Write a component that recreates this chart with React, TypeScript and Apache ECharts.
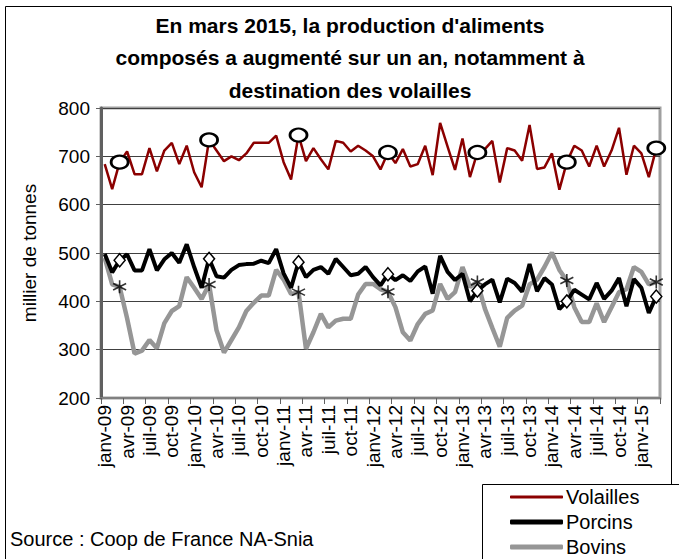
import React, { useEffect, useRef } from "react";
import * as echarts from "echarts";

const MONTHS = ["janv", "févr", "mars", "avr", "mai", "juin", "juil", "août", "sept", "oct", "nov", "déc"];
const YEARS = ["09", "10", "11", "12", "13", "14", "15"];
const N_POINTS = 75;

const VOLAILLES = [
  684, 632, 688, 710, 663, 663, 717, 669, 712, 728, 684, 722,
  667, 636, 734, 712, 690, 700, 692, 706, 728, 728, 728, 743,
  688, 652, 744, 690, 717, 694, 673, 732, 728, 710, 722, 712,
  700, 673, 708, 686, 715, 679, 684, 722, 661, 769, 720, 672,
  737, 657, 708, 715, 732, 646, 717, 712, 691, 765, 674, 677,
  706, 631, 688, 722, 712, 679, 722, 679, 712, 759, 662, 722,
  706, 657, 717,
];

const PORCINS = [
  498, 460, 485, 497, 464, 464, 508, 464, 487, 500, 480, 518,
  471, 428, 488, 452, 449, 465, 475, 477, 478, 484, 479, 508,
  458, 428, 481, 450, 465, 471, 457, 488, 471, 454, 457, 471,
  450, 433, 456, 444, 454, 442, 462, 472, 416, 494, 461, 444,
  457, 400, 422, 435, 445, 398, 447, 438, 420, 477, 421, 448,
  435, 384, 400, 424, 414, 404, 438, 405, 422, 448, 390, 446,
  428, 376, 410,
];

const BOVINS = [
  490, 435, 430, 365, 292, 298, 320, 303, 355, 380, 390, 450,
  428, 405, 435, 340, 294, 320, 346, 380, 397, 412, 412, 465,
  445, 415, 419, 302, 336, 374, 346, 360, 364, 364, 414, 436,
  436, 425, 420, 388, 336, 319, 353, 374, 381, 436, 405, 419,
  471, 430, 440, 385, 345, 306, 366, 381, 391, 435, 445, 471,
  501, 465, 443, 388, 357, 357, 396, 357, 388, 419, 425, 471,
  461, 435, 440,
];

const MARCH_IDX = [2, 14, 26, 38, 50, 62, 74];
const Y_MIN = 200;
const Y_MAX = 800;
const Y_STEP = 100;

const TITLE = "En mars 2015, la production d'aliments\ncomposés a augmenté sur un an, notamment à\ndestination des volailles";
const Y_NAME = "millier de tonnes";
const SOURCE = "Source : Coop de France NA-Snia";
const LEGEND_NAMES = ["Volailles", "Porcins", "Bovins"];

const FONT = "'Liberation Sans', Arial, sans-serif";
const C_VOL = "#8b0000";
const C_POR = "#000000";
const C_BOV = "#969696";

function buildCategories(): string[] {
  const out: string[] = [];
  for (let i = 0; i < N_POINTS; i++) {
    out.push(MONTHS[i % 12] + "-" + YEARS[Math.floor(i / 12)]);
  }
  return out;
}

const ASTERISK = "path://M5,0L5,10M0.67,2.5L9.33,7.5M0.67,7.5L9.33,2.5";

function marchPoints(values: number[]) {
  return MARCH_IDX.map((i) => [i, values[i]]);
}

function legendItem(name: string, top: number, h: number) {
  return {
    data: [name],
    orient: "horizontal",
    left: 510,
    top,
    icon: "roundRect",
    itemWidth: 53,
    itemHeight: h,
    padding: 0,
    textStyle: { fontFamily: FONT, fontSize: 20, color: "#000", padding: [0, 0, 0, -2] },
    selectedMode: false,
  };
}

export default function App() {
  const ref = useRef<HTMLDivElement>(null);
  useEffect(() => {
    document.body.style.margin = "0";
    if (!ref.current) return;
    const chart = echarts.init(ref.current, undefined, { renderer: "svg" });
    const categories = buildCategories();
    chart.setOption({
      animation: false,
      backgroundColor: "#fff",
      textStyle: { fontFamily: FONT },
      title: {
        text: TITLE,
        left: 345,
        top: 4,
        textAlign: "center",
        textStyle: { fontFamily: FONT, fontSize: 21, fontWeight: "bold", color: "#000", lineHeight: 32.5 },
      },
      grid: { left: 101, top: 108, right: 19, bottom: 161, show: true, borderColor: "#a0a0a0", borderWidth: 3, containLabel: false },
      legend: [
        legendItem(LEGEND_NAMES[0], 487, 3),
        legendItem(LEGEND_NAMES[1], 512, 5),
        legendItem(LEGEND_NAMES[2], 537, 5),
      ],
      xAxis: {
        type: "category",
        data: categories,
        boundaryGap: true,
        axisLine: { lineStyle: { color: "#808080", width: 2 } },
        axisTick: { show: true, interval: 2, length: 6, lineStyle: { color: "#606060", width: 1 } },
        axisLabel: { interval: 2, rotate: 90, fontSize: 19, color: "#000", fontFamily: FONT, margin: 7 },
        splitLine: { show: false },
      },
      yAxis: {
        type: "value",
        min: Y_MIN,
        max: Y_MAX,
        interval: Y_STEP,
        name: Y_NAME,
        nameLocation: "middle",
        nameGap: 62,
        nameRotate: 90,
        nameTextStyle: { fontFamily: FONT, fontSize: 19, color: "#000" },
        axisLine: { show: true, lineStyle: { color: "#606060", width: 3 } },
        axisTick: { show: true, inside: false, length: 5, lineStyle: { color: "#606060" } },
        axisLabel: { fontSize: 19, color: "#000", fontFamily: FONT, margin: 11 },
        splitLine: { show: true, lineStyle: { color: "#404040", width: 1 } },
      },
      series: [
        {
          name: "Bovins",
          type: "line",
          data: BOVINS,
          symbol: "none",
          lineStyle: { color: C_BOV, width: 4.5 },
          itemStyle: { color: C_BOV },
          z: 2,
        },
        {
          name: "Porcins",
          type: "line",
          data: PORCINS,
          symbol: "none",
          lineStyle: { color: C_POR, width: 4 },
          itemStyle: { color: C_POR },
          z: 3,
        },
        {
          name: "Volailles",
          type: "line",
          data: VOLAILLES,
          symbol: "none",
          lineStyle: { color: C_VOL, width: 2.5 },
          itemStyle: { color: C_VOL },
          z: 4,
        },
        {
          name: "mars-bovins",
          type: "scatter",
          data: marchPoints(BOVINS),
          symbol: ASTERISK,
          symbolSize: 13,
          itemStyle: { color: "transparent", borderColor: "#000", borderWidth: 1.6 },
          z: 10,
        },
        {
          name: "mars-porcins",
          type: "scatter",
          data: marchPoints(PORCINS),
          symbol: "diamond",
          symbolSize: [11, 13],
          itemStyle: { color: "#fff", borderColor: "#000", borderWidth: 1.5, opacity: 1 },
          z: 10,
        },
        {
          name: "mars-volailles",
          type: "scatter",
          data: marchPoints(VOLAILLES),
          symbol: "circle",
          symbolSize: [17, 13],
          itemStyle: { color: "#fff", borderColor: "#000", borderWidth: 2.5, opacity: 1 },
          z: 10,
        },
      ],
      graphic: [
        {
          type: "rect",
          shape: { x: 5.5, y: 6.5, width: 666, height: 620 },
          style: { fill: "none", stroke: "#000", lineWidth: 1 },
          silent: true,
          z: -1,
        },
        {
          type: "rect",
          shape: { x: 482.5, y: 484.5, width: 300, height: 120 },
          style: { fill: "#fff", stroke: "#000", lineWidth: 1 },
          silent: true,
          z: 0,
        },
        {
          type: "text",
          left: 10,
          top: 529,
          style: { text: SOURCE, fontFamily: FONT, fontSize: 20, fill: "#000" },
        },
      ],
    });
    return () => chart.dispose();
  }, []);
  return <div ref={ref} style={{ width: 679, height: 559 }} />;
}
